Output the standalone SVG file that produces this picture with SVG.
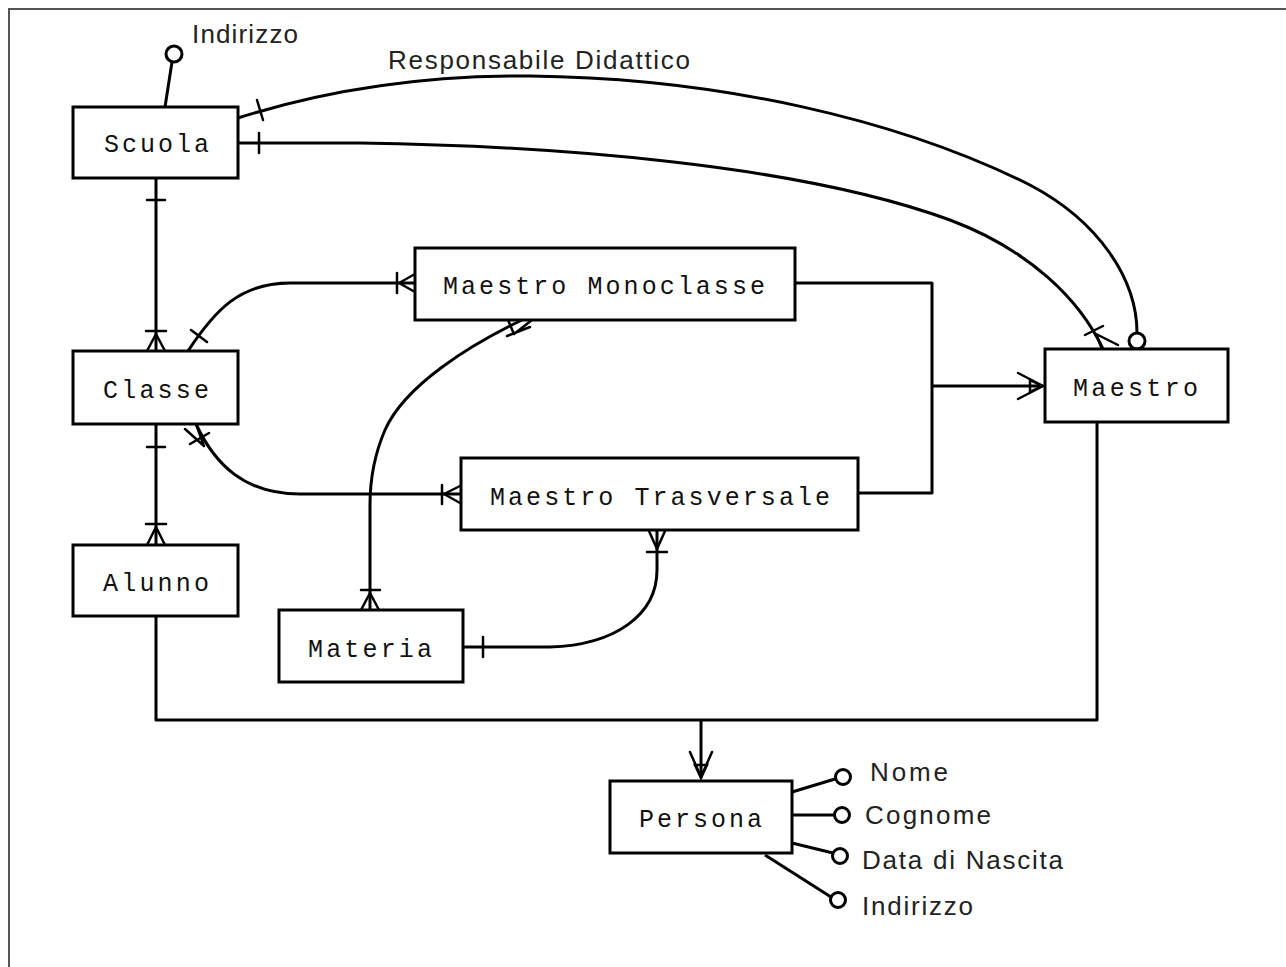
<svg xmlns="http://www.w3.org/2000/svg" width="1286" height="967" viewBox="0 0 1286 967">
  <style>
    .box { fill: #fff; stroke: #000; stroke-width: 3; }
    .ent { font-family: "Liberation Mono", "DejaVu Sans Mono", monospace; font-size: 25px; fill: #111; }
    .lbl { font-family: "Liberation Sans", Arial, sans-serif; font-size: 26px; fill: #222; }
    .ln { fill: none; stroke: #000; stroke-width: 3; stroke-linejoin: round; }
    .mk { fill: none; stroke: #000; stroke-width: 2.5; stroke-linecap: round; }
    .att { fill: #fff; stroke: #000; stroke-width: 3; }
    .frame { fill: none; stroke: #555; stroke-width: 2; }
  </style>

  <rect x="0" y="0" width="1286" height="967" fill="#fff"/>
  <path class="frame" d="M9,967 V9 H1286"/>

  <!-- relationships -->
  <g id="connectors">
    <!-- Scuola - Classe -->
    <path class="ln" d="M156,178 V351"/>
    <path class="mk" d="M147,200 H165 M146,331 H166 M156,334 L147,351 M156,334 L165,351"/>

    <!-- Classe - Alunno -->
    <path class="ln" d="M156,424 V545"/>
    <path class="mk" d="M147,447 H165 M146,524 H166 M156,527 L147,545 M156,527 L165,545"/>

    <!-- Classe - Maestro Monoclasse -->
    <path class="ln" d="M188,351 C215,310 240,283 290,283 H415"/>
    <path class="mk" d="M191,330 L207,342 M397,273 V293 M399,283 L415,274 M399,283 L415,292"/>

    <!-- Classe - Maestro Trasversale -->
    <path class="ln" d="M196,424 C215,465 245,494 300,494 H460"/>
    <path class="mk" d="M190,444 L209,433 M204,446 L185,429 M204,446 L196,424 M442,485 V504 M444,494 L460,486 M444,494 L460,503"/>

    <!-- Maestro Monoclasse - Materia -->
    <path class="ln" d="M522,320 C470,345 405,385 385,430 C372,460 370,485 370,505 V610"/>
    <path class="mk" d="M507,336 L530,327 M514,334 L508,320 M514,334 L532,320 M361,590 H380 M370,593 L361,610 M370,593 L379,610"/>

    <!-- Materia - Maestro Trasversale -->
    <path class="ln" d="M463,647 H550 C615,645 657,615 657,570 V530"/>
    <path class="mk" d="M483,637 V657 M647,552 H667 M657,549 L649,531 M657,549 L665,531"/>

    <!-- Scuola - Maestro -->
    <path class="ln" d="M238,143 H360 C560,146 800,165 950,220 C1030,250 1080,300 1103,349"/>
    <path class="mk" d="M259,133 V153 M1085,335 L1103,326 M1096,334 L1102,349 M1096,334 L1118,345"/>

    <!-- Scuola - Maestro (Responsabile Didattico) -->
    <path class="ln" d="M238,118 C320,92 420,75 530,76 C720,78 900,120 1030,185 C1100,222 1137,280 1137,333"/>
    <path class="mk" d="M257,100 L263,120"/>
    <circle class="att" cx="1137" cy="341" r="8"/>

    <!-- Maestro Monoclasse / Maestro Trasversale specialise Maestro -->
    <path class="ln" d="M795,283 H932 V493 H858 M932,386 H1043"/>
    <path class="mk" d="M1018,373 L1043,386 L1018,399 M1030,380 L1043,386 L1030,392 Z"/>

    <!-- Alunno / Maestro specialise Persona -->
    <path class="ln" d="M156,616 V720 H1097 V422 M701,720 V778"/>
    <path class="mk" d="M690,752 L701,777 L712,752 M695,765 H707 L701,778 Z"/>
  </g>

  <!-- attributes -->
  <g id="attr-scuola-indirizzo">
    <path class="ln" d="M165,107 L172,62"/>
    <circle class="att" cx="174" cy="54" r="8"/>
    <text class="lbl" x="192" y="43" textLength="106" lengthAdjust="spacing">Indirizzo</text>
  </g>
  <g id="label-responsabile">
    <text class="lbl" x="388" y="69" textLength="302" lengthAdjust="spacing">Responsabile Didattico</text>
  </g>
  <g id="attr-persona">
    <path class="ln" d="M792,792 L835,779 M792,815 H834 M792,843 L833,853 M765,855 L831,897"/>
    <circle class="att" cx="843" cy="777" r="7.5"/>
    <circle class="att" cx="842" cy="815" r="7.5"/>
    <circle class="att" cx="840" cy="856" r="7.5"/>
    <circle class="att" cx="838" cy="900" r="7.5"/>
    <text class="lbl" x="870" y="781" textLength="78" lengthAdjust="spacing">Nome</text>
    <text class="lbl" x="865" y="824" textLength="126" lengthAdjust="spacing">Cognome</text>
    <text class="lbl" x="862" y="869" textLength="201" lengthAdjust="spacing">Data di Nascita</text>
    <text class="lbl" x="862" y="915" textLength="111" lengthAdjust="spacing">Indirizzo</text>
  </g>

  <!-- entities -->
  <g id="scuola">
    <rect class="box" x="73" y="107" width="165" height="71"/>
    <text class="ent" x="104" y="152" textLength="105" lengthAdjust="spacing">Scuola</text>
  </g>
  <g id="classe">
    <rect class="box" x="73" y="351" width="165" height="73"/>
    <text class="ent" x="103" y="398" textLength="106" lengthAdjust="spacing">Classe</text>
  </g>
  <g id="alunno">
    <rect class="box" x="73" y="545" width="165" height="71"/>
    <text class="ent" x="103" y="591" textLength="106" lengthAdjust="spacing">Alunno</text>
  </g>
  <g id="maestro-monoclasse">
    <rect class="box" x="415" y="248" width="380" height="72"/>
    <text class="ent" x="443" y="294" textLength="322" lengthAdjust="spacing">Maestro Monoclasse</text>
  </g>
  <g id="maestro-trasversale">
    <rect class="box" x="461" y="458" width="397" height="72"/>
    <text class="ent" x="490" y="505" textLength="340" lengthAdjust="spacing">Maestro Trasversale</text>
  </g>
  <g id="materia">
    <rect class="box" x="279" y="610" width="184" height="72"/>
    <text class="ent" x="308" y="657" textLength="124" lengthAdjust="spacing">Materia</text>
  </g>
  <g id="maestro">
    <rect class="box" x="1045" y="349" width="183" height="73"/>
    <text class="ent" x="1073" y="396" textLength="125" lengthAdjust="spacing">Maestro</text>
  </g>
  <g id="persona">
    <rect class="box" x="610" y="781" width="182" height="72"/>
    <text class="ent" x="639" y="827" textLength="123" lengthAdjust="spacing">Persona</text>
  </g>
</svg>
